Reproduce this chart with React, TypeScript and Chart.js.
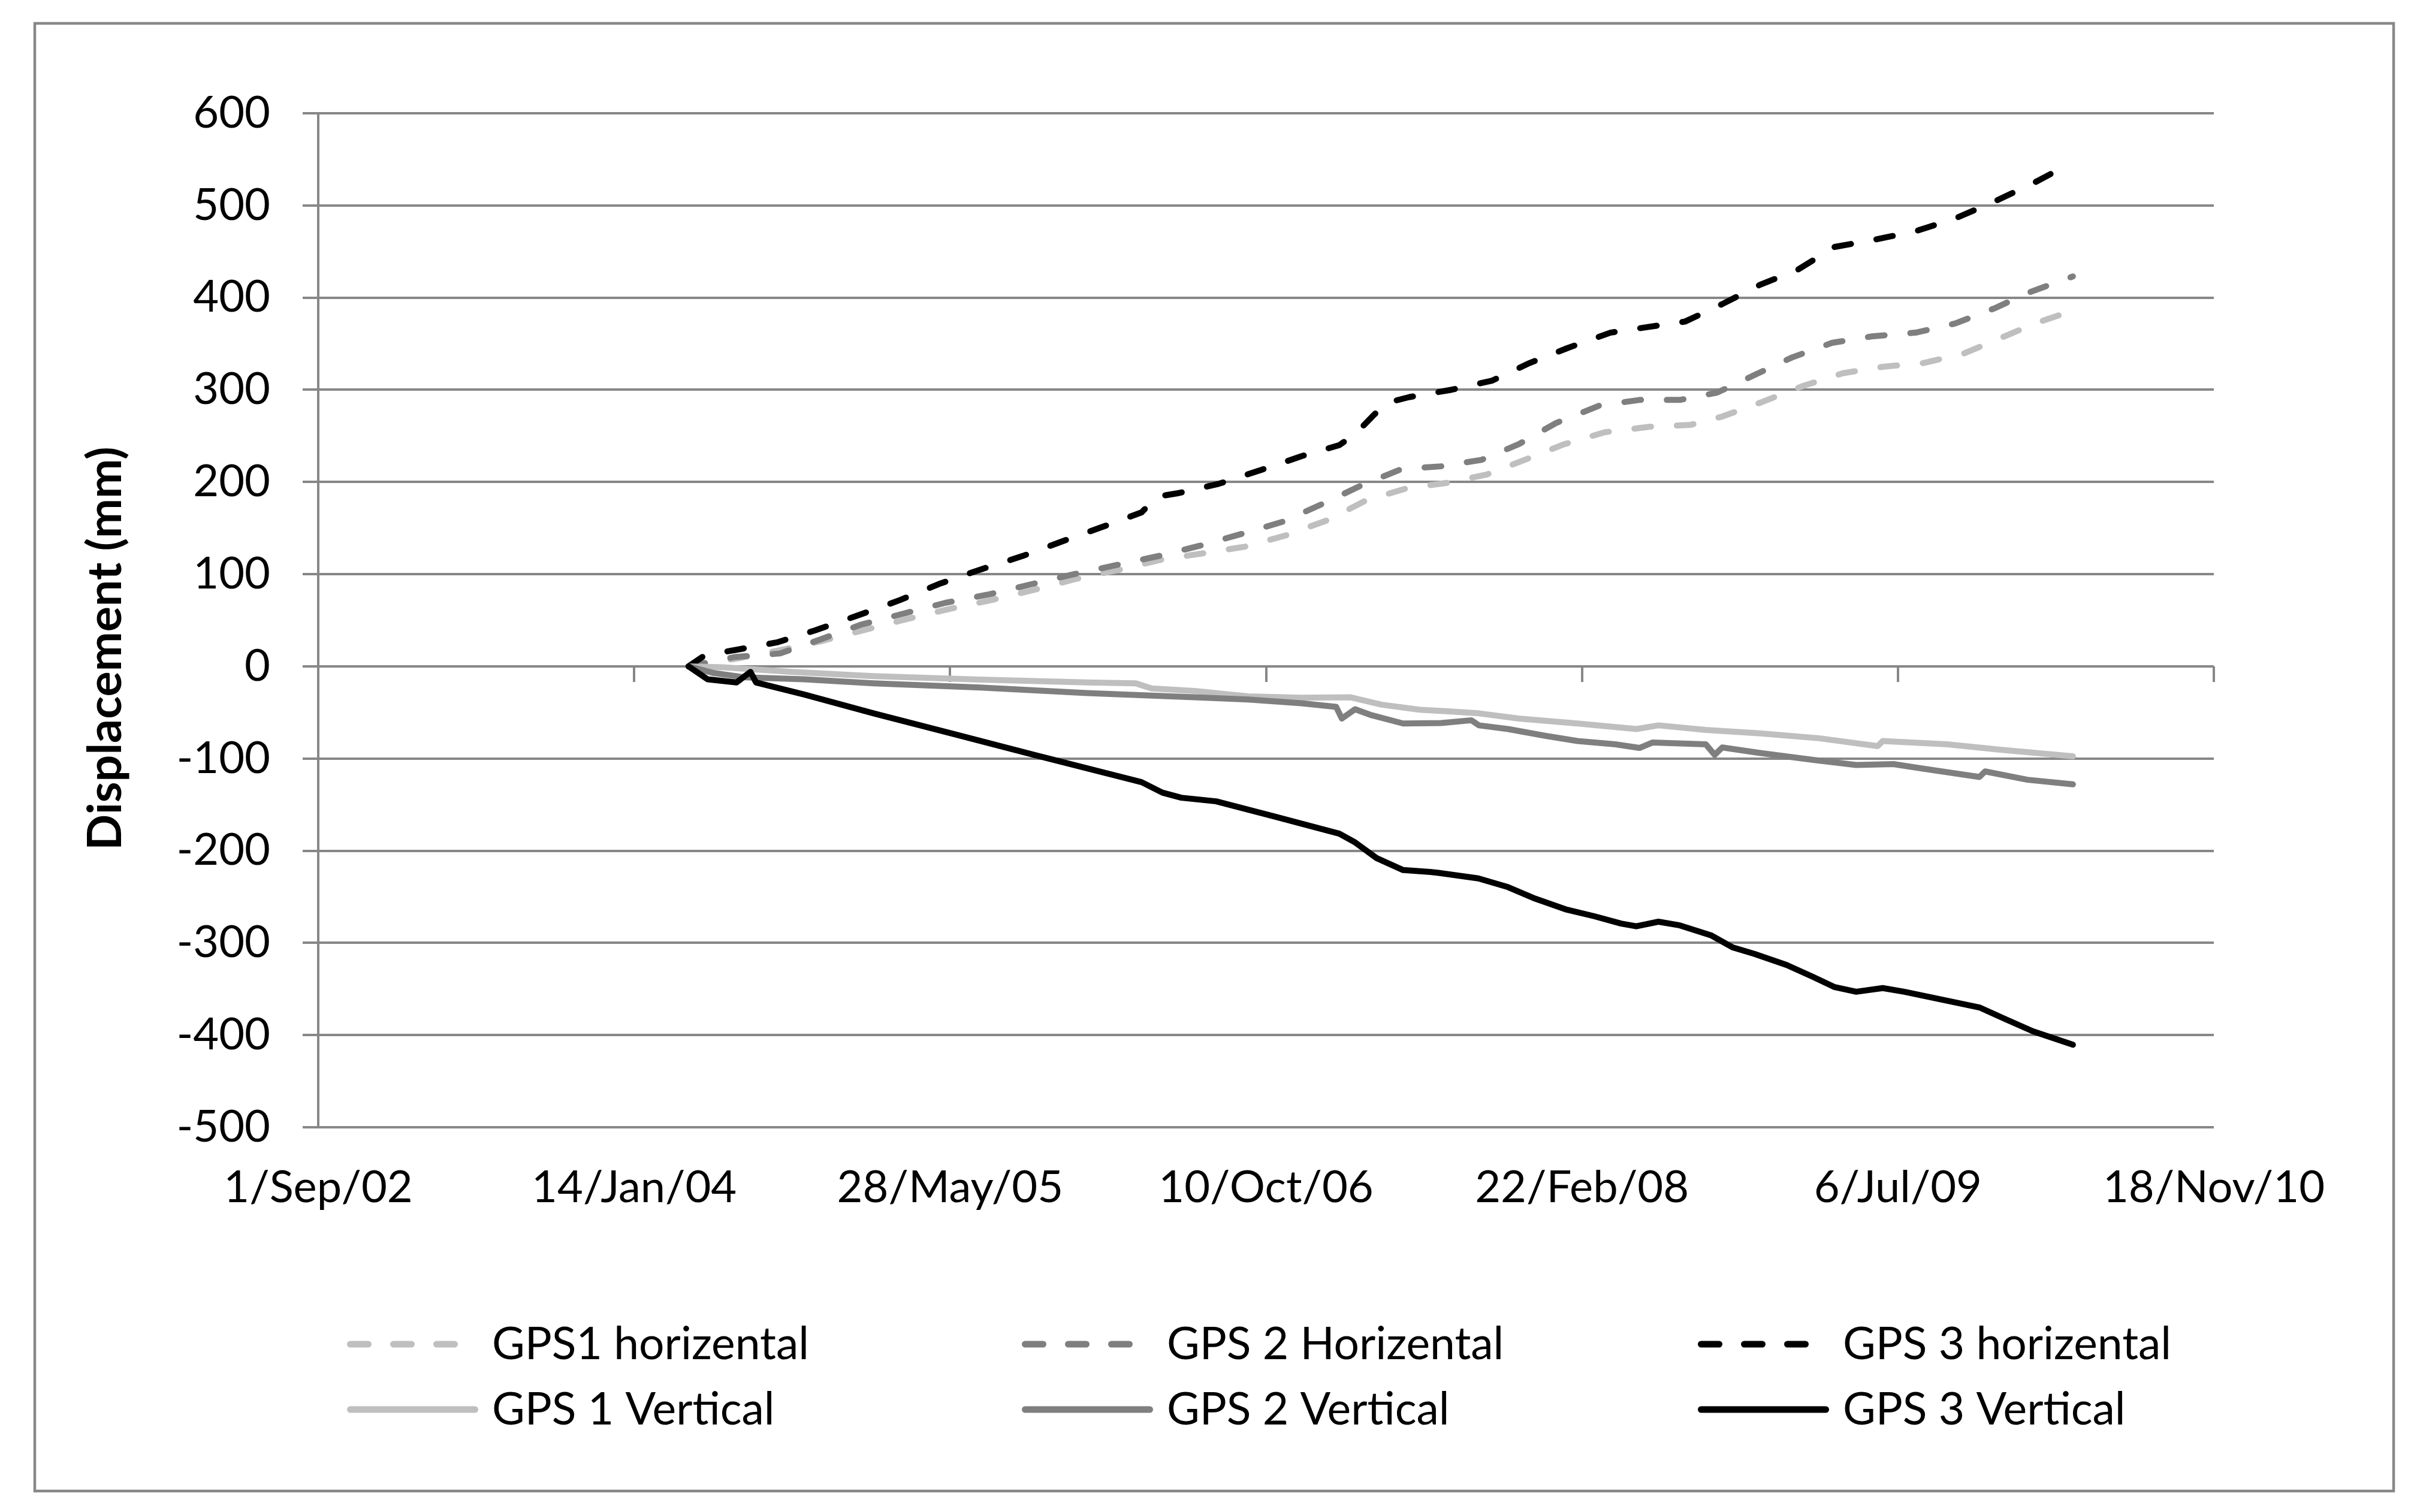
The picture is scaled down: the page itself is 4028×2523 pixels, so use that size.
import React, { useEffect, useRef } from 'react';
import { Chart, registerables } from 'chart.js';

Chart.register(...registerables);

// ---- axis definitions (Excel serial dates on x) ----
const X_MIN = 37500; // 1/Sep/02
const X_MAX = 40500; // 18/Nov/10
const X_STEP = 500;
const Y_MIN = -500;
const Y_MAX = 600;
const Y_STEP = 100;
const MONTHS = ['Jan', 'Feb', 'Mar', 'Apr', 'May', 'Jun', 'Jul', 'Aug', 'Sep', 'Oct', 'Nov', 'Dec'];

const Y_TITLE = 'Displacement (mm)';

// ---- series ----
const SERIES_LABELS = [
  'GPS1 horizental',
  'GPS 2 Horizental',
  'GPS 3 horizental',
  'GPS 1 Vertical',
  'GPS 2 Vertical',
  'GPS 3 Vertical',
];
const SERIES_COLORS = ['#BFBFBF', '#7F7F7F', '#000000', '#BFBFBF', '#7F7F7F', '#000000'];
const SERIES_DASHED = [true, true, true, false, false, false];

const gps1HDates = [38086, 38167, 38234, 38294, 38362, 38430, 38497, 38566, 38633, 38700, 38769, 38836, 38904, 38968, 39031, 39099, 39158, 39222, 39286, 39349, 39413, 39472, 39536, 39608, 39672, 39722, 39786, 39849, 39913, 39976, 40040, 40103, 40162, 40217, 40277];
const gps1HValues = [0, 9, 18, 27, 39, 51, 62, 72, 83, 95, 105, 116, 123, 130, 142, 159, 180, 193, 199, 208, 225, 241, 254, 260, 262, 271, 287, 304, 318, 325, 329, 339, 356, 372, 386];

const gps2HDates = [38086, 38158, 38231, 38294, 38358, 38425, 38493, 38561, 38628, 38696, 38764, 38832, 38896, 38963, 39027, 39095, 39150, 39214, 39277, 39341, 39400, 39459, 39528, 39591, 39655, 39714, 39773, 39832, 39896, 39959, 40028, 40091, 40155, 40205, 40277];
const gps2HValues = [0, 10, 14, 29, 45, 57, 69, 78, 89, 100, 110, 120, 131, 144, 157, 178, 196, 214, 217, 224, 241, 264, 283, 289, 289, 297, 316, 335, 351, 358, 362, 372, 389, 405, 423];

const gps3HDates = [38086, 38112, 38162, 38226, 38286, 38353, 38421, 38485, 38548, 38616, 38679, 38748, 38803, 38827, 38862, 38925, 38992, 39056, 39116, 39141, 39171, 39192, 39226, 39293, 39358, 39417, 39476, 39545, 39603, 39663, 39722, 39782, 39841, 39900, 39964, 40028, 40091, 40155, 40214, 40277];
const gps3HValues = [0, 12, 18, 26, 39, 55, 72, 90, 105, 120, 136, 153, 167, 184, 188, 198, 213, 228, 240, 252, 273, 286, 292, 300, 310, 329, 345, 362, 368, 374, 393, 414, 430, 455, 463, 472, 486, 505, 524, 547];

const gps1VDates = [38086, 38141, 38251, 38379, 38548, 38717, 38794, 38819, 38887, 38972, 39056, 39133, 39183, 39243, 39293, 39337, 39400, 39493, 39586, 39621, 39696, 39782, 39875, 39968, 39976, 40078, 40162, 40277];
const gps1VValues = [0, -1, -6, -10.6, -14.4, -17.4, -18.5, -24, -26.7, -32.5, -34, -33.5, -41.6, -47, -49, -51, -56.6, -62, -68, -64, -69, -72.7, -78, -86.5, -81, -84.6, -90.4, -97.6];

const gps2VDates = [38086, 38124, 38176, 38269, 38379, 38548, 38717, 38887, 38972, 39056, 39111, 39120, 39141, 39167, 39217, 39277, 39325, 39337, 39383, 39443, 39493, 39553, 39591, 39612, 39696, 39710, 39722, 39782, 39866, 39934, 39993, 40036, 40129, 40138, 40205, 40277];
const gps2VValues = [0, -7, -12, -14, -18.5, -23, -29, -33.5, -36, -40, -44, -56.6, -46.5, -53, -62, -61.5, -58.5, -64, -68, -75.5, -81, -84.6, -88.5, -82.6, -84.6, -96, -88, -94, -101.5, -107, -106, -110.6, -120, -114, -123, -128];

const gps3VDates = [38086, 38116, 38162, 38184, 38193, 38269, 38379, 38506, 38633, 38803, 38836, 38866, 38921, 39014, 39116, 39141, 39175, 39217, 39260, 39273, 39336, 39383, 39426, 39476, 39519, 39562, 39586, 39621, 39655, 39705, 39739, 39773, 39824, 39866, 39900, 39934, 39976, 40010, 40129, 40171, 40214, 40277];
const gps3VValues = [0, -14, -17.5, -6, -17.5, -30.5, -51, -73.5, -96, -125.6, -137, -142.5, -146.4, -163, -181.5, -191, -208, -221, -223, -224, -230, -239.5, -252, -264, -271, -279, -282, -277, -281, -292, -305, -312, -324, -337, -348, -353, -349, -353, -370, -383, -396, -410.5];

const SERIES_DATES = [gps1HDates, gps2HDates, gps3HDates, gps1VDates, gps2VDates, gps3VDates];
const SERIES_VALUES = [gps1HValues, gps2HValues, gps3HValues, gps1VValues, gps2VValues, gps3VValues];

// ---- styling ----
const FONT = 'Lato';
const TICK_SIZE = 74;
const LEGEND_SIZE = 75;
const TITLE_SIZE = 79;
const GRID = '#878787';
const W = 4028;
const H = 2523;

function serialToLabel(v: number): string {
  const d = new Date(Date.UTC(1899, 11, 30) + Math.round(v) * 86400000);
  const yy = String(d.getUTCFullYear() % 100).padStart(2, '0');
  return `${d.getUTCDate()}/${MONTHS[d.getUTCMonth()]}/${yy}`;
}

const framePlugin = {
  id: 'frame',
  beforeDraw(chart: any) {
    const ctx = chart.ctx;
    ctx.save();
    ctx.fillStyle = '#ffffff';
    ctx.fillRect(0, 0, chart.width, chart.height);
    ctx.strokeStyle = GRID;
    ctx.lineWidth = 4.5;
    ctx.strokeRect(58, 39, 3994 - 58, 2488 - 39);
    ctx.restore();
  },
};

const annotationPlugin = {
  id: 'titleAndLegend',
  afterDraw(chart: any) {
    const ctx = chart.ctx;
    ctx.save();
    // y-axis title
    ctx.translate(202, 1082);
    ctx.rotate(-Math.PI / 2);
    ctx.font = `bold ${TITLE_SIZE}px ${FONT}`;
    ctx.fillStyle = '#000';
    ctx.textAlign = 'center';
    ctx.textBaseline = 'alphabetic';
    ctx.fillText(Y_TITLE, 0, 0);
    ctx.restore();

    // legend
    const cols = [579, 1705, 2833];
    const rows = [2243, 2352];
    ctx.save();
    ctx.font = `${LEGEND_SIZE}px ${FONT}`;
    ctx.textAlign = 'left';
    ctx.textBaseline = 'alphabetic';
    SERIES_LABELS.forEach((label, i) => {
      const cx = cols[i % 3];
      const cy = rows[Math.floor(i / 3)];
      ctx.strokeStyle = SERIES_COLORS[i];
      ctx.lineWidth = 11;
      ctx.lineCap = 'round';
      ctx.setLineDash(SERIES_DASHED[i] ? [30, 42] : []);
      ctx.beginPath();
      ctx.moveTo(cx + 5.5, cy);
      ctx.lineTo(cx + 213.5, cy);
      ctx.stroke();
      ctx.setLineDash([]);
      ctx.fillStyle = '#000';
      ctx.fillText(label, cx + 242, cy + 25);
    });
    ctx.restore();
  },
};

export default function App() {
  const ref = useRef<HTMLCanvasElement>(null);

  useEffect(() => {
    document.body.style.margin = '0';
    let chart: Chart | null = null;
    let cancelled = false;

    const build = () => {
      if (cancelled || !ref.current) return;
      const tickFont = { family: FONT, size: TICK_SIZE };
      chart = new Chart(ref.current, {
        type: 'line',
        data: {
          datasets: SERIES_LABELS.map((label, i) => ({
            label,
            data: SERIES_DATES[i].map((x, j) => ({ x, y: SERIES_VALUES[i][j] })),
            borderColor: SERIES_COLORS[i],
            backgroundColor: SERIES_COLORS[i],
            borderWidth: 10,
            borderDash: SERIES_DASHED[i] ? [28, 43] : [],
            borderCapStyle: 'round',
            borderJoinStyle: 'round',
            pointRadius: 0,
            pointHoverRadius: 0,
            tension: 0,
            fill: false,
            order: SERIES_LABELS.length - i,
            xAxisID: 'x',
            yAxisID: 'y',
          })),
        },
        options: {
          responsive: false,
          animation: false,
          events: [],
          layout: { padding: { left: 0, top: 189, right: 334, bottom: 0 } },
          plugins: {
            legend: { display: false },
            tooltip: { enabled: false },
          },
          scales: {
            x: {
              type: 'linear',
              position: 'bottom',
              min: X_MIN,
              max: X_MAX,
              afterFit: (s: any) => {
                s.height = 642;
              },
              grid: { display: false, drawTicks: false },
              border: { display: false },
              ticks: {
                stepSize: X_STEP,
                autoSkip: false,
                maxRotation: 0,
                minRotation: 0,
                padding: 57,
                color: '#000',
                font: tickFont,
                callback: (v: any) => serialToLabel(Number(v)),
              },
            },
            x0: {
              type: 'linear',
              axis: 'x',
              position: { y: 0 },
              min: X_MIN,
              max: X_MAX,
              afterFit: (s: any) => {
                s.height = 0;
              },
              grid: {
                display: true,
                drawOnChartArea: false,
                drawTicks: true,
                tickLength: 26,
                color: GRID,
                lineWidth: 4,
              },
              border: { display: false },
              ticks: { stepSize: X_STEP, display: false, autoSkip: false },
            },
            y: {
              type: 'linear',
              position: 'left',
              min: Y_MIN,
              max: Y_MAX,
              afterFit: (s: any) => {
                s.width = 531;
              },
              grid: { color: GRID, lineWidth: 4, drawTicks: true, tickLength: 26 },
              border: { color: GRID, width: 4 },
              ticks: {
                stepSize: Y_STEP,
                padding: 54,
                color: '#000',
                font: tickFont,
              },
            },
          },
        } as any,
        plugins: [framePlugin, annotationPlugin],
      } as any);
    };

    const fonts = (document as any).fonts;
    if (fonts && fonts.load) {
      Promise.all([
        fonts.load(`${TICK_SIZE}px ${FONT}`),
        fonts.load(`bold ${TITLE_SIZE}px ${FONT}`),
      ]).then(build, build);
    } else {
      build();
    }

    return () => {
      cancelled = true;
      if (chart) chart.destroy();
    };
  }, []);

  return (
    <canvas
      ref={ref}
      width={W}
      height={H}
      style={{ display: 'block', width: `${W}px`, height: `${H}px` }}
    />
  );
}
